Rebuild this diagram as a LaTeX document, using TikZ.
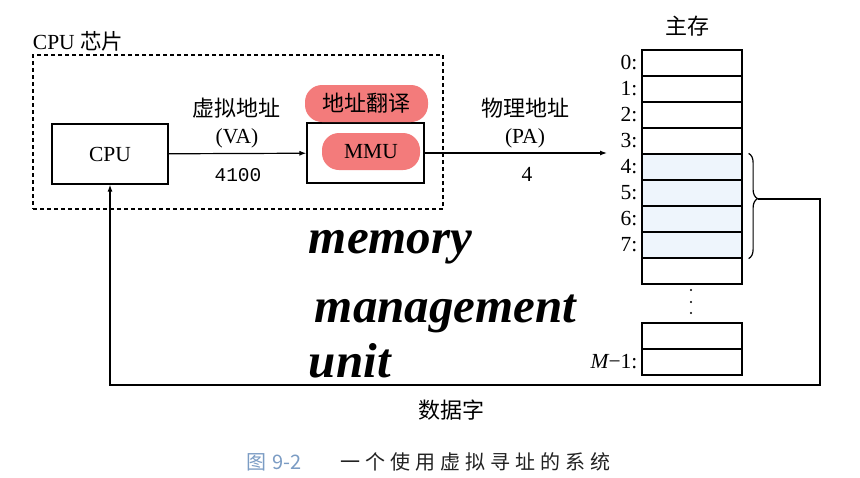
\documentclass[tikz,border=0pt]{standalone}
\usepackage{fontspec}
\setmainfont{Liberation Serif}
\setmonofont{Liberation Mono}
\newfontfamily\cjk{Noto Sans CJK SC}
\usetikzlibrary{arrows.meta,positioning,decorations.pathreplacing}
\definecolor{mmuRed}{HTML}{F37B7B}
\definecolor{cellBlue}{HTML}{EEF5FC}
\definecolor{capBlue}{HTML}{7B9CC4}
\definecolor{capInk}{HTML}{222222}

\begin{document}
\begin{tikzpicture}[x=1pt,y=-1pt,>={Latex[length=7pt,width=5pt]},line width=1.2pt,
  every node/.style={font=\fontsize{21.5}{24}\selectfont},
  zh/.style={font=\cjk\fontsize{22}{24}\selectfont},
  box/.style={draw,minimum width=116pt,minimum height=60pt,inner sep=0pt},
  pill/.style={fill=mmuRed,rounded corners=17pt,inner sep=0pt,minimum height=37pt},
  cell/.style={draw,minimum width=100pt,minimum height=26pt,inner sep=0pt},
  hand/.style={anchor=base west,font=\fontsize{49}{50}\selectfont\bfseries\itshape}]
  \fill[white] (0,0) rectangle (860,477);
  \useasboundingbox (0,0) rectangle (860,477);

  % CPU chip
  \node[anchor=west] (chiplbl) at (29,41) {CPU {\cjk 芯片}};
  \node[draw,dash pattern=on 4pt off 3pt,minimum width=410pt,minimum height=154pt,inner sep=0pt] (chip) at (238,132) {};
  \node[box] (cpu) at (110,154) {CPU};
  \node[box,minimum width=117pt] (mmu) at (365.5,153) {};
  \node[pill,minimum width=123pt,zh] (xlate) at (366.5,103.5) {地址翻译};
  \node[pill,minimum width=98pt] (mmutxt) at (371,151.5) {MMU};

  \node[zh] (va) at (236,108) {虚拟地址};
  \node (vaabbr) at (237,138) {(VA)};
  \node[font=\ttfamily\fontsize{19.5}{24}\selectfont] (vanum) at (238,175) {4100};
  \draw[->] (cpu) -- (mmu);

  \coordinate (pa) at (607,153);
  \node[zh] (phys) at (525,108) {物理地址};
  \node (paabbr) at (525,138) {(PA)};
  \node (panum) at (527,174) {4};
  \draw[->] (mmu) -- (pa);

  % main memory
  \node[zh] (mem) at (687,26) {主存};
  \foreach \i in {0,1,2,3,8}
    \node[cell] (m\i) at (692,63+26*\i) {};
  \foreach \i in {4,...,7}
    \node[cell,fill=cellBlue] (m\i) at (692,63+26*\i) {};
  \foreach \i in {0,...,7}
    \node[left=0pt of m\i] (l\i) {\i:};
  \foreach \d in {290,302,313}
    \fill (691,\d) circle (1.1pt);
  \node[cell] (ma) at (692,336) {};
  \node[cell] (mlast) at (692,362) {};
  \node[left=0pt of mlast] (llast) {{\itshape M}−1:};

  \draw[decorate,decoration={brace,amplitude=9pt,aspect=0.43}]
    ([xshift=6pt]m4.north east) -- ([xshift=6pt]m7.south east);
  \coordinate (tip) at (758,199);
  \coordinate (ret) at (820,385);
  \draw[->] (tip) -- (tip -| ret) -- (ret) -| (cpu.south);
  \node[zh] (word) at (451,410) {数据字};

  % handwritten note
  \node[hand] (hw1) at (305,253) {memory};
  \node[hand] (hw2) at (311,322) {management};
  \node[hand] (hw3) at (305,377) {unit};

  % caption
  \node[font=\cjk\fontsize{20}{24}\selectfont,text=capBlue] (fig) at (274,462) {图\,\,9-2};
  \node[font=\cjk\fontsize{20}{24}\selectfont\addfontfeature{LetterSpace=25},text=capInk] (cap) at (475,462) {一个使用虚拟寻址的系统};
\end{tikzpicture}
\end{document}
